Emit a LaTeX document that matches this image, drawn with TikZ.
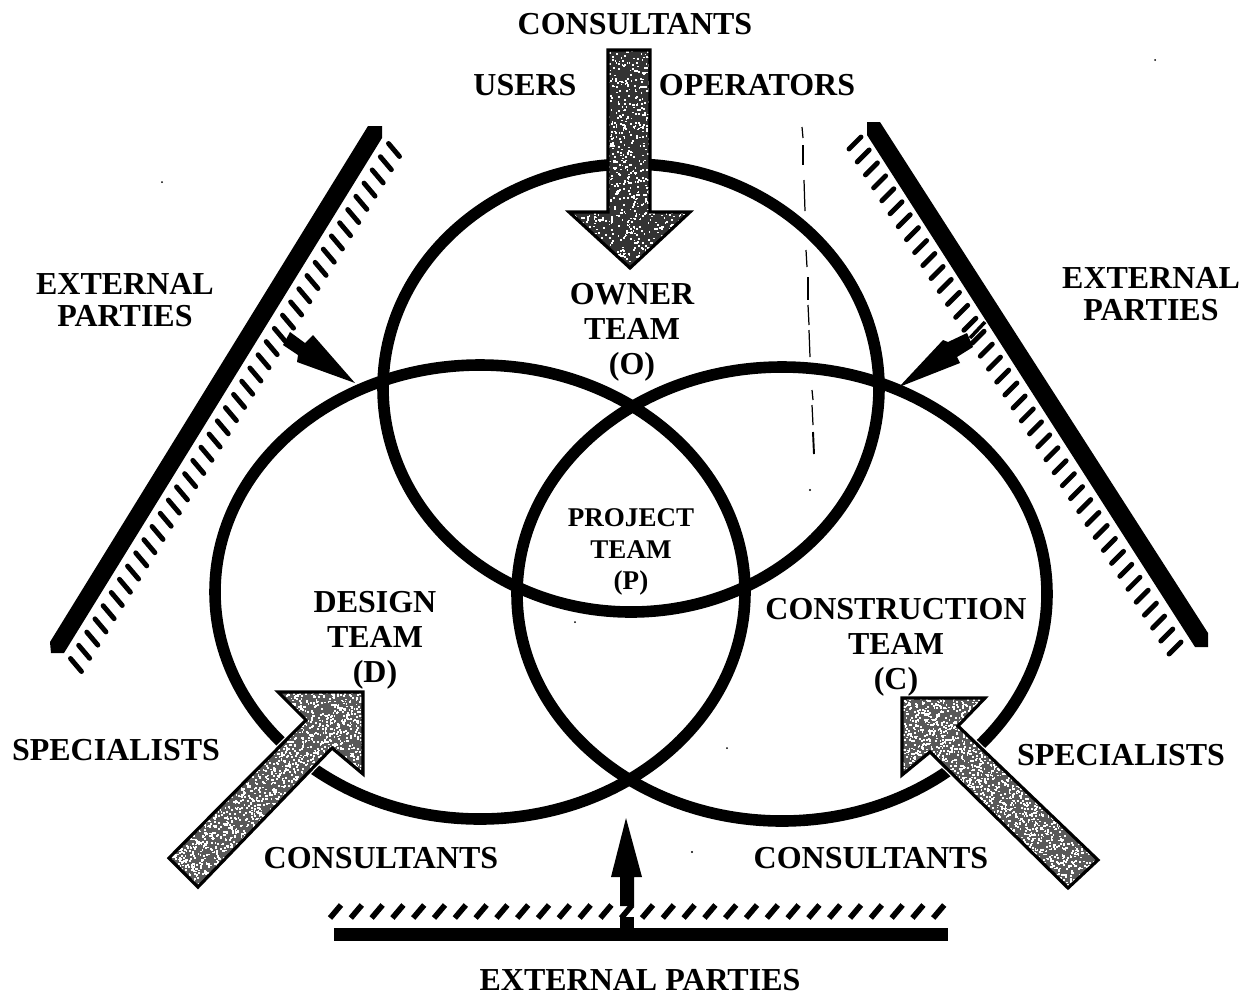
\documentclass[tikz,border=0pt]{standalone}
\usepackage{fontspec}
\setmainfont{Liberation Serif}
\usetikzlibrary{calc}
\definecolor{ink}{gray}{0.0}
\newcommand{\stipplearrow}[8]{%
  % #1 path, #2..#5 bbox xmin xmax ymin ymax, #6 dots, #7 base grey, #8 halo width
  \fill[white,draw=white,line width=#8,line join=miter] #1 -- cycle;
  \fill[black!#7] #1 -- cycle;
  \begin{scope}
    \clip #1 -- cycle;
    \foreach \k in {1,...,#6}{%
      \pgfmathsetmacro\rx{#2+rnd*(#3-#2)}%
      \pgfmathsetmacro\ry{#4+rnd*(#5-#4)}%
      \fill[white] (\rx,\ry) rectangle ++(1.8,1.8);
    }
  \end{scope}
  \draw[ink,line width=1.8pt,line join=miter] #1 -- cycle;
}
\tikzset{
  ring/.style={draw=ink,line width=6.6pt},
  tickmark/.style={ink,line width=2.8pt,line cap=round},
  flatmark/.style={ink,line width=3.2pt},
  solidbar/.style={fill=ink,draw=none},
  label/.style={inner sep=0pt,align=center,text=ink,font=\fontsize{18.2}{20}\selectfont\bfseries},
  sidelabel/.style={inner sep=0pt,align=center,text=ink,font=\fontsize{18.2}{18.6}\selectfont\bfseries},
  smalllabel/.style={inner sep=0pt,align=center,text=ink,font=\fontsize{15.4}{18}\selectfont\bfseries},
  speck/.style={fill=ink,draw=none},
  thinseg/.style={ink,line width=0.7pt}
}
\begin{document}
\begin{tikzpicture}[x=0.02cm,y=-0.02cm]
\useasboundingbox (0,0) rectangle (1244,995);
\pgfmathsetseed{4242}

% circles
\draw[ring] (631,388) ellipse [x radius=248,y radius=224];
\draw[ring] (480,592) ellipse [x radius=265,y radius=227];
\draw[ring] (782,594) ellipse [x radius=265,y radius=227];

% left bar with hatching
\fill[solidbar] (368,126) -- (382,126) -- (382,138) -- (64,653) -- (51,653) -- (50,642) -- cycle;
\coordinate (la) at (394,150);
\coordinate (lb) at (76,665);
\foreach \t in {0,1,...,39}{
  \pgfmathsetmacro\f{\t/39}
  \draw[tickmark] ($(la)!\f!(lb)+(-5.5,-6.5)$) -- ($(la)!\f!(lb)+(5.5,6.5)$);
}
% right bar with hatching
\fill[solidbar] (867,122) -- (880,122) -- (1208,633) -- (1208,647) -- (1195,647) -- (867,135) -- cycle;
\coordinate (ra) at (855,143);
\coordinate (rb) at (1175,648);
\foreach \t in {0,1,...,39}{
  \pgfmathsetmacro\f{\t/39}
  \draw[tickmark] ($(ra)!\f!(rb)+(-6,6)$) -- ($(ra)!\f!(rb)+(6,-6)$);
}
% bottom bar with hatching
\fill[solidbar] (334,928) rectangle (948,941);
\foreach \t in {0,1,...,29}{
  \pgfmathsetmacro\xx{330+20.8*\t}
  \draw[flatmark] (\xx,918) -- (\xx+11,905);
}

% small black arrows
\fill[ink] (290,332) -- (305,343) -- (313,335) -- (355,383) -- (297,362) -- (298,355) -- (283,345) -- cycle;
\fill[ink] (973,347) -- (957,357) -- (960,363) -- (899,387) -- (943,340) -- (948,342) -- (967,333) -- cycle;
\draw[ink,line width=2pt] (970,338) -- (985,322);
% bottom arrow
\fill[ink] (626,818) -- (642,877) -- (634,877) -- (634,906) -- (620,906) -- (620,877) -- (611,877) -- cycle;
\fill[ink] (620,917) rectangle (634,930);

% grey arrows
\stipplearrow{(608,50) -- (650,50) -- (650,212) -- (690,212) -- (630,268) -- (569,212) -- (608,212)}{569}{690}{50}{268}{1600}{80}{0pt}
\stipplearrow{(169,858) -- (306,720) -- (278,692) -- (363,692) -- (363,774) -- (332,748) -- (198,887)}{169}{363}{692}{887}{3800}{65}{3.2pt}
\stipplearrow{(1098,860) -- (958,726) -- (985,698) -- (902,698) -- (902,775) -- (930,752) -- (1068,888)}{902}{1098}{698}{888}{3800}{65}{3.2pt}

% thin dashed trace
\draw[thinseg] (802,127) -- (803,138);
\draw[thinseg] (803,145) -- (803,165);
\draw[thinseg] (804,180) -- (805,211);
\draw[thinseg] (806,250) -- (807,267);
\draw[thinseg] (808,277) -- (808,300);
\draw[thinseg] (808,305) -- (809,325);
\draw[thinseg] (809,330) -- (810,357);
\draw[thinseg] (812,390) -- (813,400);
\draw[thinseg] (812,405) -- (813,425);
\draw[thinseg,line width=1.1pt] (813,432) -- (814,454);

% specks
\fill[speck] (162,182) circle (1);
\fill[speck] (1155,60) circle (1);
\fill[speck] (692,852) circle (1.2);
\fill[speck] (575,622) circle (1);
\fill[speck] (727,748) circle (1);
\fill[speck] (810,490) circle (1.2);

% labels
\node[label] (cons) at (635,24) {CONSULTANTS};
\node[label] (users) at (525,85) {USERS};
\node[label] (oper) at (757,85) {OPERATORS};
\node[sidelabel] (extl) at (125,300) {EXTERNAL\\PARTIES};
\node[sidelabel] (extr) at (1151,294) {EXTERNAL\\PARTIES};
\node[label] (owner) at (632,332) {OWNER\\TEAM\\(O)};
\node[smalllabel] (proj) at (631,552) {PROJECT\\TEAM\\(P)};
\node[label] (design) at (375,640) {DESIGN\\TEAM\\(D)};
\node[label] (constr) at (896,647) {CONSTRUCTION\\TEAM\\(C)};
\node[label] (specl) at (116,750) {SPECIALISTS};
\node[label] (specr) at (1121,755) {SPECIALISTS};
\node[label] (consl) at (381,858) {CONSULTANTS};
\node[label] (consr) at (871,858) {CONSULTANTS};
\node[label] (extb) at (640,980) {EXTERNAL PARTIES};
\end{tikzpicture}
\end{document}
